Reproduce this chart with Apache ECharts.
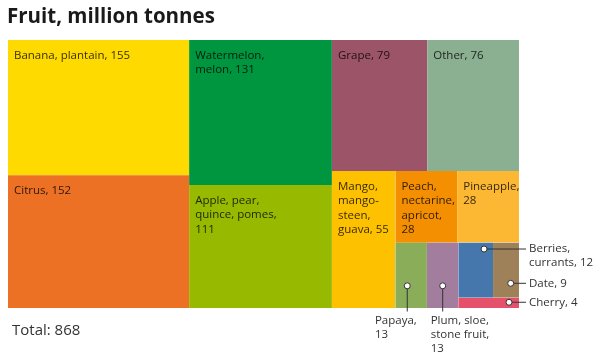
<!DOCTYPE html>
<html>
<head>
<meta charset="utf-8">
<script src="https://cdn.jsdelivr.net/npm/echarts@6/dist/echarts.min.js"></script>
<style>
html,body{margin:0;padding:0;background:#fff;}
#chart{width:606px;height:360px;}
</style>
</head>
<body>
<div id="chart"></div>
<script>
// ---- data ----
const categories = ['Banana, plantain', 'Citrus', 'Watermelon, melon', 'Apple, pear, quince, pomes',
  'Grape', 'Other', 'Mango, mangosteen, guava', 'Peach, nectarine, apricot', 'Pineapple',
  'Papaya', 'Plum, sloe, stone fruit', 'Berries, currants', 'Date', 'Cherry'];
const values = [155, 152, 131, 111, 79, 76, 55, 28, 28, 13, 13, 12, 9, 4];
const labelTexts = ['Banana, plantain, ', 'Citrus, ', 'Watermelon,\nmelon, ', 'Apple, pear,\nquince, pomes,\n',
  'Grape, ', 'Other, ', 'Mango,\nmango-\nsteen,\nguava, ', 'Peach,\nnectarine,\napricot,\n', 'Pineapple,\n',
  'Papaya,\n', 'Plum, sloe,\nstone fruit,\n', 'Berries,\ncurrants, ', 'Date, ', 'Cherry, '];
const colors = ['#FFDA00', '#EC7124', '#00953F', '#97BA00', '#9C5468', '#8BB091', '#FEC100',
  '#F38F00', '#FDB833', '#89AD58', '#A27D9D', '#4576AC', '#9F8159', '#E5516A'];
// nesting of the cells (indices into the arrays above)
const groups = [[0, 1], [2, 3], [[4, 5], [6, [[7, 8], [9, [10, [[11, 12], 13]]]]]]];
const titleText = 'Fruit, million tonnes';
const totalText = 'Total: 868';

// ---- callout styling for small cells ----
const callouts = {
  9:  { side: 'bottom', dot: [0.375, 0.66], offset: [-20.5, 5.5] },
  10: { side: 'bottom', dot: [0.5, 0.66], offset: [3.7, 5.5] },
  11: { side: 'right', dot: [0.74, 0.115], offset: [36, -0.7] },
  12: { side: 'right', dot: [0.68, 0.74], offset: [10, 33.6] },
  13: { side: 'right', dot: [0.835, 0.45], offset: [10, 0.6], lineHeight: 9 }
};

const textKeyToIndex = {};
function leaf(i) {
  const text = labelTexts[i] + values[i];
  textKeyToIndex[text] = i;
  const node = {
    name: categories[i],
    value: values[i],
    itemStyle: { color: colors[i] },
    label: { formatter: text }
  };
  const c = callouts[i];
  if (c) {
    Object.assign(node.label, {
      position: c.side === 'bottom' ? [0, '100%'] : ['100%', 0],
      padding: 0,
      color: '#333',
      lineHeight: c.lineHeight || 14
    });
  }
  return node;
}
function build(g) {
  if (typeof g === 'number') return leaf(g);
  return { name: '', children: g.map(build), itemStyle: { borderWidth: 0, gapWidth: 0 } };
}

const cellRects = {};
const chart = echarts.init(document.getElementById('chart'), null, { renderer: 'canvas' });
const option = {
  animation: false,
  title: [
    { text: titleText, left: 7, top: 7, padding: 0,
      textStyle: { fontFamily: 'Open Sans', fontWeight: 'bold', fontSize: 20.5, color: '#1a1a1a' } },
    { text: totalText, left: 12, top: 323, padding: 0,
      textStyle: { fontFamily: 'Open Sans', fontWeight: 'normal', fontSize: 15, color: '#333' } }
  ],
  series: [{
    type: 'treemap',
    left: 8, top: 40, width: 511, height: 268,
    squareRatio: 1,
    sort: false,
    roam: false,
    nodeClick: false,
    breadcrumb: { show: false },
    itemStyle: { borderWidth: 0, gapWidth: 0 },
    upperLabel: { show: false },
    label: {
      show: true,
      position: 'insideTopLeft',
      distance: 0,
      padding: [8, 6, 0, 6],
      fontFamily: 'Open Sans',
      fontSize: 11.5,
      lineHeight: 14.5,
      color: 'rgba(0,0,0,0.8)',
      overflow: 'none',
      align: 'left',
      verticalAlign: 'top'
    },
    labelLayout: function (p) {
      const idx = textKeyToIndex[p.text];
      if (idx != null && p.rect) {
        cellRects[idx] = { x: p.rect.x, y: p.rect.y, width: p.rect.width, height: p.rect.height };
        const c = callouts[idx];
        if (c) return { dx: c.offset[0], dy: c.offset[1] };
      }
      return {};
    },
    data: groups.map(build)
  }]
};
chart.setOption(option);

// leader lines and dots, positioned from the cell rectangles laid out by the treemap
const elements = [];
Object.keys(callouts).forEach(function (k) {
  const c = callouts[k];
  const r = cellRects[k];
  if (!r) return;
  const cx = r.x + r.width * c.dot[0];
  const cy = r.y + r.height * c.dot[1];
  let x2, y2;
  if (c.side === 'bottom') { x2 = cx; y2 = r.y + r.height + c.offset[1] - 2; }
  else { x2 = r.x + r.width + c.offset[0] - 3; y2 = cy; }
  elements.push({ type: 'line', z: 100, silent: true,
    shape: { x1: cx, y1: cy, x2: x2, y2: y2 },
    style: { stroke: '#333', lineWidth: 1 } });
  elements.push({ type: 'circle', z: 101, silent: true,
    shape: { cx: cx, cy: cy, r: 3 },
    style: { fill: '#fff', stroke: '#333', lineWidth: 1 } });
});
chart.setOption({ graphic: { elements: elements } });
</script>
</body>
</html>
